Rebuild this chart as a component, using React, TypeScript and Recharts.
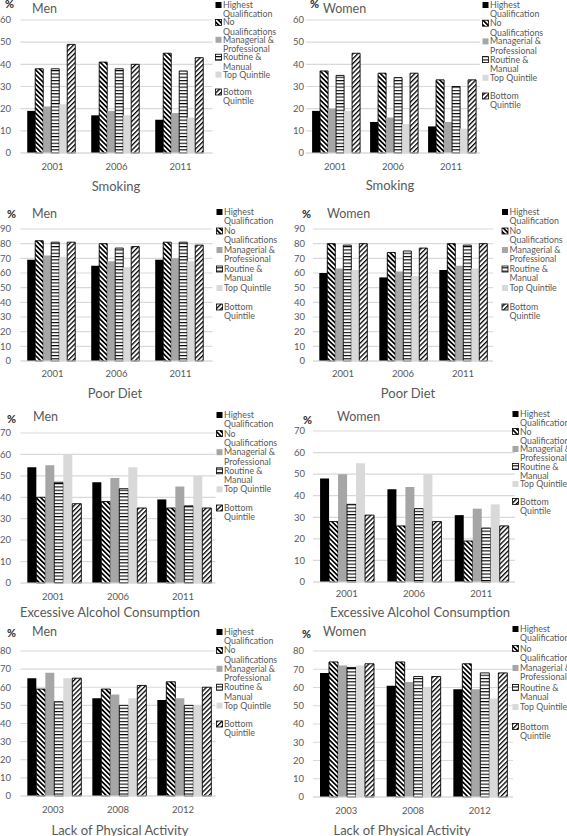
import { Bar, BarChart, CartesianGrid, XAxis, YAxis } from "recharts";

const seriesKeys = ["highest", "noQual", "managerial", "routine", "topQuintile", "bottomQuintile"];

const legendLines = [
  ["Highest", "Qualification"],
  ["No", "Qualifications"],
  ["Managerial &", "Professional"],
  ["Routine &", "Manual"],
  ["Top Quintile"],
  ["Bottom", "Quintile"],
];

const surveyYears = ["2001", "2006", "2011"];
const activityYears = ["2003", "2008", "2012"];

const smokingTicks = [0, 10, 20, 30, 40, 50, 60];
const dietTicks = [0, 10, 20, 30, 40, 50, 60, 70, 80, 90];
const alcoholTicks = [0, 10, 20, 30, 40, 50, 60, 70];
const activityTicks = [0, 10, 20, 30, 40, 50, 60, 70, 80];

// rows = years, columns = series in seriesKeys order
const smokingMen = [
  [19, 38, 21, 38, 22, 49],
  [17, 41, 19, 38, 17, 40],
  [15, 45, 18, 37, 16, 43],
];
const smokingWomen = [
  [19, 37, 20, 35, 19, 45],
  [14, 36, 16, 34, 13, 36],
  [12, 33, 14, 30, 11, 33],
];
const dietMen = [
  [69, 82, 72, 81, 71, 81],
  [65, 80, 68, 77, 64, 78],
  [69, 81, 70, 81, 68, 79],
];
const dietWomen = [
  [60, 80, 63, 79, 62, 80],
  [57, 74, 61, 75, 58, 77],
  [62, 80, 65, 79, 63, 80],
];
const alcoholMen = [
  [54, 40, 55, 47, 60, 37],
  [47, 38, 49, 44, 54, 35],
  [39, 35, 45, 36, 50, 35],
];
const alcoholWomen = [
  [48, 28, 50, 36, 55, 31],
  [43, 26, 44, 34, 50, 28],
  [31, 19, 34, 25, 36, 26],
];
const activityMen = [
  [65, 59, 68, 52, 65, 65],
  [54, 59, 56, 50, 54, 61],
  [53, 63, 54, 50, 50, 60],
];
const activityWomen = [
  [68, 74, 72, 71, 72, 73],
  [61, 74, 63, 66, 60, 66],
  [59, 73, 59, 68, 54, 68],
];

const FONT = "Lato, 'Open Sans', sans-serif";
const TEXT = "#595959";

const seriesStyles = [
  { fill: "#000000", stroke: "none" },
  { fill: "url(#pat-noq)", stroke: "#000000" },
  { fill: "#a6a6a6", stroke: "none" },
  { fill: "url(#pat-routine)", stroke: "#000000" },
  { fill: "#d9d9d9", stroke: "none" },
  { fill: "url(#pat-bottom)", stroke: "#000000" },
];

type Panel = {
  id: string;
  sex: string;
  title: string;
  values: number[][];
  categories: string[];
  ticks: number[];
  plotLeft: number;
  plotRight: number;
  plotTop: number;
  plotBottom: number;
  tickRight: number;
  catY: number;
  titleX: number;
  titleY: number;
  pctX: number;
  pctY: number;
  sexX: number;
  sexY: number;
  legX: number;
  legY: number;
  legStep: number;
};

const panels: Panel[] = [
  {
    id: "smoking-men", sex: "Men", title: "Smoking", values: smokingMen, categories: surveyYears, ticks: smokingTicks,
    plotLeft: 20, plotRight: 212, plotTop: 20, plotBottom: 153, tickRight: 10.5, catY: 167,
    titleX: 116, titleY: 186, pctX: 5, pctY: 4, sexX: 32, sexY: 9, legX: 215.5, legY: 5, legStep: 17.4,
  },
  {
    id: "smoking-women", sex: "Women", title: "Smoking", values: smokingWomen, categories: surveyYears, ticks: smokingTicks,
    plotLeft: 306, plotRight: 480, plotTop: 20, plotBottom: 153, tickRight: 304, catY: 167,
    titleX: 390, titleY: 185, pctX: 310, pctY: 4, sexX: 323, sexY: 9, legX: 482.5, legY: 5, legStep: 18.2,
  },
  {
    id: "diet-men", sex: "Men", title: "Poor Diet", values: dietMen, categories: surveyYears, ticks: dietTicks,
    plotLeft: 20, plotRight: 212, plotTop: 229, plotBottom: 361, tickRight: 10.5, catY: 374,
    titleX: 115, titleY: 393, pctX: 7, pctY: 214, sexX: 32, sexY: 214, legX: 216.5, legY: 212, legStep: 19,
  },
  {
    id: "diet-women", sex: "Women", title: "Poor Diet", values: dietWomen, categories: surveyYears, ticks: dietTicks,
    plotLeft: 313, plotRight: 493, plotTop: 229, plotBottom: 361, tickRight: 305, catY: 374,
    titleX: 408, titleY: 393, pctX: 302, pctY: 214, sexX: 327, sexY: 214, legX: 502, legY: 212, legStep: 19,
  },
  {
    id: "alcohol-men", sex: "Men", title: "Excessive Alcohol Consumption", values: alcoholMen, categories: surveyYears, ticks: alcoholTicks,
    plotLeft: 20, plotRight: 215, plotTop: 433, plotBottom: 583, tickRight: 10.5, catY: 597,
    titleX: 110, titleY: 612, pctX: 7, pctY: 419, sexX: 33, sexY: 417, legX: 216.5, legY: 415, legStep: 18.6,
  },
  {
    id: "alcohol-women", sex: "Women", title: "Excessive Alcohol Consumption", values: alcoholWomen, categories: surveyYears, ticks: alcoholTicks,
    plotLeft: 313, plotRight: 515, plotTop: 431, plotBottom: 582, tickRight: 305, catY: 594,
    titleX: 420, titleY: 612, pctX: 303, pctY: 420, sexX: 337, sexY: 417, legX: 512.5, legY: 414, legStep: 17.5,
  },
  {
    id: "activity-men", sex: "Men", title: "Lack of Physical Activity", values: activityMen, categories: activityYears, ticks: activityTicks,
    plotLeft: 20, plotRight: 215, plotTop: 651, plotBottom: 796, tickRight: 10.5, catY: 810,
    titleX: 120, titleY: 830, pctX: 7, pctY: 633, sexX: 32, sexY: 632, legX: 216.5, legY: 632, legStep: 18.4,
  },
  {
    id: "activity-women", sex: "Women", title: "Lack of Physical Activity", values: activityWomen, categories: activityYears, ticks: activityTicks,
    plotLeft: 313, plotRight: 513, plotTop: 651, plotBottom: 797, tickRight: 304, catY: 811,
    titleX: 402, titleY: 830, pctX: 302, pctY: 634, sexX: 323, sexY: 632, legX: 512.5, legY: 629, legStep: 19.5,
  },
];

function PanelChart({ p }: { p: Panel }) {
  const chartX = p.tickRight - 18;
  const chartY = p.plotTop - 6;
  const yAxisWidth = p.plotLeft - chartX;
  const width = p.plotRight - chartX + 2;
  const height = p.catY + 8 - chartY;
  const xAxisHeight = height - (p.plotBottom - chartY);
  const rows = p.categories.map((year, i) => {
    const row: Record<string, string | number> = { year };
    seriesKeys.forEach((key, j) => {
      row[key] = p.values[i][j];
    });
    return row;
  });

  return (
    <div style={{ position: "absolute", left: chartX, top: chartY }}>
      <BarChart
        width={width}
        height={height}
        data={rows}
        margin={{ top: 6, right: 2, bottom: 0, left: 0 }}
        barGap={0}
        barCategoryGap="10.5%"
      >
        <CartesianGrid vertical={false} stroke="#d9d9d9" strokeWidth={1.2} />
        <XAxis
          dataKey="year"
          height={xAxisHeight}
          interval={0}
          axisLine={{ stroke: "#d9d9d9", strokeWidth: 1.2 }}
          tickLine={false}
          tick={(props: any) => (
            <text
              x={props.x}
              y={p.catY - chartY}
              dy="0.35em"
              textAnchor="middle"
              fill={TEXT}
              fontSize={9.5}
              fontFamily={FONT}
            >
              {props.payload.value}
            </text>
          )}
        />
        <YAxis
          width={yAxisWidth}
          domain={[0, p.ticks[p.ticks.length - 1]]}
          ticks={p.ticks}
          interval={0}
          axisLine={false}
          tickLine={false}
          tick={(props: any) => (
            <text
              x={p.tickRight - chartX}
              y={props.y}
              dy="0.35em"
              textAnchor="end"
              fill={TEXT}
              fontSize={9.5}
              fontFamily={FONT}
            >
              {props.payload.value}
            </text>
          )}
        />
        {seriesKeys.map((key, j) => (
          <Bar
            key={key}
            dataKey={key}
            fill={seriesStyles[j].fill}
            stroke={seriesStyles[j].stroke}
            strokeWidth={0.9}
            isAnimationActive={false}
          />
        ))}
      </BarChart>
    </div>
  );
}

function PanelLabels({ p }: { p: Panel }) {
  return (
    <g fontFamily={FONT}>
      <text x={p.pctX} y={p.pctY} dy="0.35em" fontSize={11} fontWeight={700} fill="#262626">
        %
      </text>
      <text x={p.sexX} y={p.sexY} dy="0.35em" fontSize={12.5} fill={TEXT}>
        {p.sex}
      </text>
      <text x={p.titleX} y={p.titleY} dy="0.35em" fontSize={13} textAnchor="middle" fill={TEXT}>
        {p.title}
      </text>
      {legendLines.map((lines, i) => {
        const y = p.legY + i * p.legStep;
        return (
          <g key={i}>
            <rect
              x={p.legX}
              y={y - 3}
              width={6}
              height={6}
              fill={seriesStyles[i].fill}
              stroke={seriesStyles[i].stroke}
              strokeWidth={0.8}
            />
            {lines.map((line, k) => (
              <text key={k} x={p.legX + 7.5} y={y + k * 9.4} dy="0.35em" fontSize={8.8} fill={TEXT}>
                {line}
              </text>
            ))}
          </g>
        );
      })}
    </g>
  );
}

export default function App() {
  return (
    <div
      style={{
        position: "absolute",
        left: 0,
        top: 0,
        width: 567,
        height: 836,
        overflow: "hidden",
        background: "#ffffff",
      }}
    >
      <svg width={0} height={0} style={{ position: "absolute" }}>
        <defs>
          <pattern id="pat-noq" patternUnits="userSpaceOnUse" width={3.4} height={3.4} patternTransform="rotate(-45)">
            <rect width={3.4} height={3.4} fill="#ffffff" />
            <rect width={1.7} height={3.4} fill="#000000" />
          </pattern>
          <pattern id="pat-bottom" patternUnits="userSpaceOnUse" width={3.4} height={3.4} patternTransform="rotate(45)">
            <rect width={3.4} height={3.4} fill="#ffffff" />
            <rect width={1.3} height={3.4} fill="#000000" />
          </pattern>
          <pattern id="pat-routine" patternUnits="userSpaceOnUse" width={4} height={3.3}>
            <rect width={4} height={3.3} fill="#ffffff" />
            <rect width={4} height={1.1} fill="#000000" />
          </pattern>
        </defs>
      </svg>
      {panels.map((p) => (
        <PanelChart key={p.id} p={p} />
      ))}
      <svg width={567} height={836} style={{ position: "absolute", left: 0, top: 0, pointerEvents: "none" }}>
        {panels.map((p) => (
          <PanelLabels key={p.id} p={p} />
        ))}
      </svg>
    </div>
  );
}
